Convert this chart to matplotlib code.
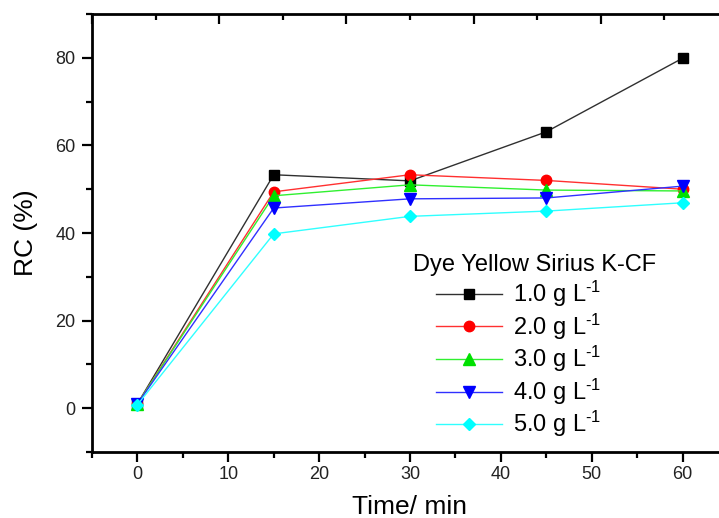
import matplotlib
matplotlib.use("Agg")
import matplotlib.pyplot as plt
from matplotlib.ticker import MultipleLocator

plt.rcParams['font.family'] = ['Liberation Sans', 'DejaVu Sans']
plt.rcParams['mathtext.fontset'] = 'custom'
plt.rcParams['mathtext.rm'] = 'Liberation Sans'
plt.rcParams['mathtext.it'] = 'Liberation Sans:italic'
plt.rcParams['mathtext.default'] = 'regular'

time_min = [0, 15, 30, 45, 60]
rc_1 = [1.0, 53.3, 51.9, 63.1, 79.9]
rc_2 = [1.0, 49.4, 53.3, 52.0, 50.0]
rc_3 = [1.0, 48.5, 51.0, 49.8, 49.6]
rc_4 = [1.0, 45.7, 47.8, 48.0, 50.7]
rc_5 = [0.8, 39.8, 43.8, 45.0, 46.9]
labels = ['1.0 g L$^{\u2010 1}$', '2.0 g L$^{\u2010 1}$', '3.0 g L$^{\u2010 1}$',
          '4.0 g L$^{\u2010 1}$', '5.0 g L$^{\u2010 1}$']
legend_title = 'Dye Yellow Sirius K-CF'

series = [rc_1, rc_2, rc_3, rc_4, rc_5]
markers = ['s', 'o', '^', 'v', 'D']
mcolors = ['#000000', '#ff0000', '#00e000', '#0000ff', '#00ffff']
lcolors = ['#303030', '#ff3030', '#30f030', '#3030ff', '#30ffff']
msizes = [7, 7.5, 8, 8, 6.5]

fig = plt.figure(figsize=(7.19, 5.18), dpi=100)
W, H = 719, 518
x0, x1, y0, y1 = 92, 728, 452, 14
ax = fig.add_axes([x0 / W, 1 - y0 / H, (x1 - x0) / W, (y0 - y1) / H])

handles = []
for vals, m, mc, lc, ms, lab in zip(series, markers, mcolors, lcolors, msizes, labels):
    h, = ax.plot(time_min, vals, color=lc, lw=1.0, marker=m, markersize=ms,
                 markerfacecolor=mc, markeredgecolor=mc, label=lab)
    handles.append(h)

ax.set_xlim(-5, 65)
ax.set_ylim(-10, 90)
ax.xaxis.set_major_locator(MultipleLocator(10))
ax.xaxis.set_minor_locator(MultipleLocator(5))
ax.yaxis.set_major_locator(MultipleLocator(20))
ax.yaxis.set_minor_locator(MultipleLocator(10))
ax.tick_params(which='both', direction='out', width=1.6, colors='#000000', labelcolor='#222222',
               labelsize=13, top=False, right=False)
ax.tick_params(which='major', length=7)
ax.tick_params(which='minor', length=4)
ax.tick_params(axis='x', pad=3)
ax.tick_params(axis='y', pad=5)
for s in ax.spines.values():
    s.set_linewidth(2.0)
ax.spines['right'].set_visible(False)

# top axis ticks (inward)
axt = ax.twiny()
axt.set_xlim(-2, 8)
axt.xaxis.set_major_locator(MultipleLocator(2))
axt.xaxis.set_minor_locator(MultipleLocator(1))
axt.tick_params(which='both', direction='in', width=1.6, labeltop=False, top=True)
axt.tick_params(which='major', length=7)
axt.tick_params(which='minor', length=4)
for s in axt.spines.values():
    s.set_visible(False)

ax.set_xlabel('Time/ min', fontsize=19, labelpad=9)
ax.set_ylabel('RC (%)', fontsize=19, labelpad=12)

fig.text(413 / W, 1 - 265 / H, legend_title, fontsize=17, va='center', ha='left')
leg = ax.legend(handles=handles, loc='upper left', frameon=False,
                bbox_to_anchor=(436 / W, 1 - 279 / H), bbox_transform=fig.transFigure,
                fontsize=17, handlelength=2.8, handletextpad=0.45, labelspacing=0.1,
                borderpad=0, borderaxespad=0)

fig.savefig('out.png', dpi=100)
